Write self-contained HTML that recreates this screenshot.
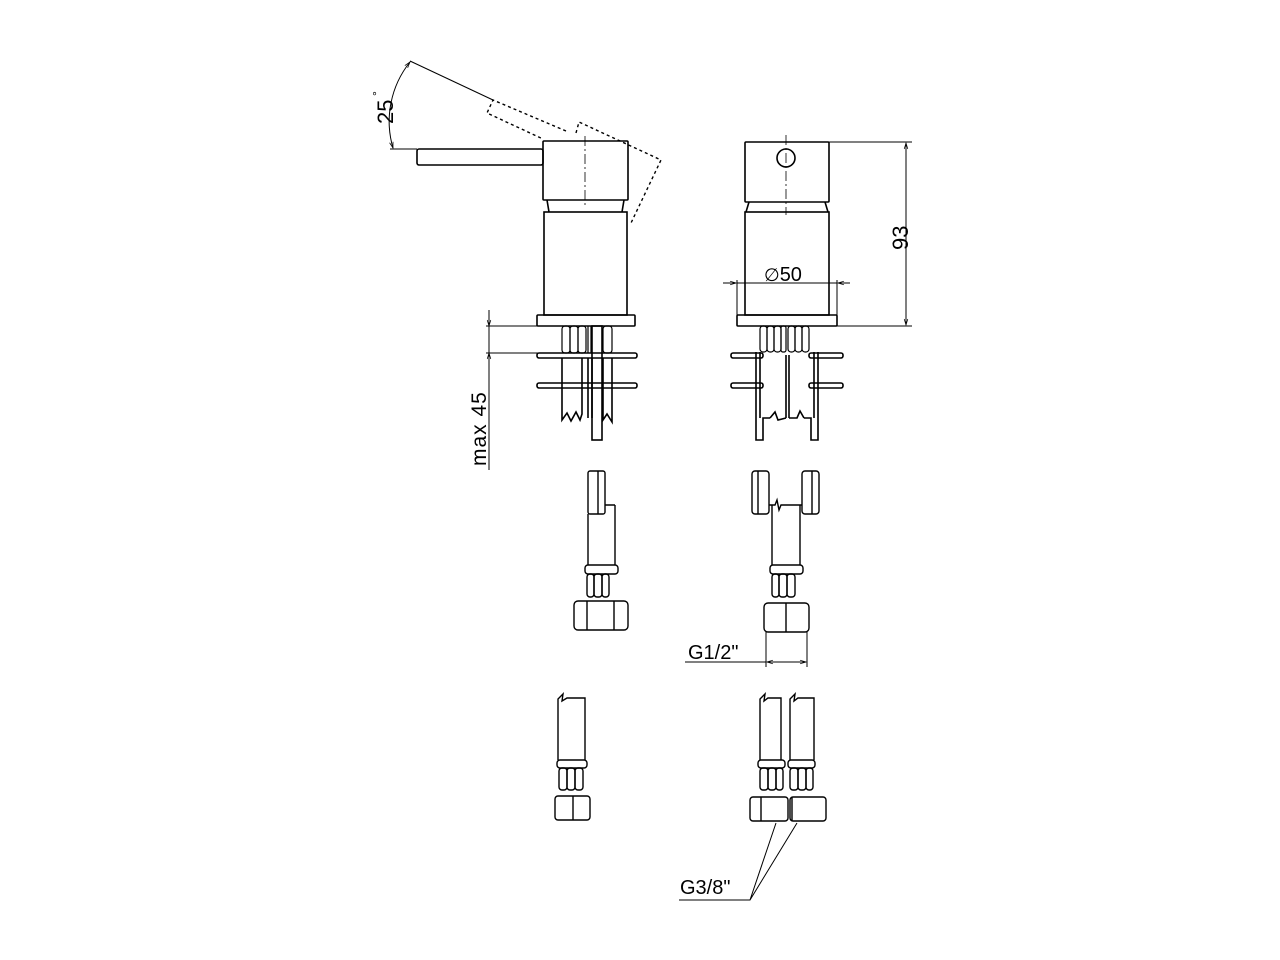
<!DOCTYPE html>
<html><head><meta charset="utf-8"><style>
html,body{margin:0;padding:0;background:#fff;}
svg{display:block;}
text{font-family:"Liberation Sans",sans-serif;fill:#000;}
</style></head><body>
<svg width="1280" height="960" viewBox="0 0 1280 960" xmlns="http://www.w3.org/2000/svg">
<defs>
<marker id="ar" viewBox="0 0 10 10" refX="10" refY="5" markerWidth="8" markerHeight="6" orient="auto-start-reverse"><path d="M0,2 L10,5 L0,8" fill="none" stroke="#000" stroke-width="1.2"/></marker>
</defs>
<g fill="none" stroke="#000" stroke-width="1.6">
<!-- LEFT VIEW -->
<rect x="417" y="149" width="126" height="16" rx="2"/>
<rect x="543" y="141" width="85" height="59" rx="1"/>
<path d="M547,200 L549,212 M624,200 L622,212"/>
<rect x="544" y="212" width="83" height="103"/>
<rect x="537" y="315" width="98" height="11" rx="1"/>
<rect x="537" y="353" width="100" height="5" rx="2"/>
<rect x="537" y="383" width="100" height="5" rx="2"/>
<!-- connectors -->
<g stroke-width="1.2">
<rect x="562" y="326" width="8" height="27" rx="3"/><rect x="570" y="326" width="8" height="27" rx="3"/><rect x="578" y="326" width="8" height="27" rx="3"/>
<rect x="603" y="326" width="9" height="27" rx="3"/>
<path d="M588,326 V353 M591,326 V353"/>
</g>
<path d="M562,358 V420 L567,413 L571,421 L576,412 L580,420 L582,414 V358"/>
<path d="M588,358 V418 M592,358 V418"/>
<rect x="592" y="326" width="10" height="114"/>
<path d="M603,358 V420 L607,414 L612,422 V358"/>
<!-- dotted lever -->
<g stroke-dasharray="3,3" stroke-width="1.4">
<path d="M566,131 L493,100 L487,113 L543,139"/>
<path d="M576,133 L579,122 L661,160 L631,223"/>
</g>
<!-- centerline -->
<path d="M585,136 V206" stroke-width="0.8" stroke-dasharray="10,3,2,3"/>
<!-- 25 deg dimension -->
<path d="M493,100 L410,61" stroke-width="1"/>
<path d="M390,149 H417" stroke-width="1"/>
<path d="M410,62 A95,95 0 0 0 393,148" stroke-width="1" marker-start="url(#ar)" marker-end="url(#ar)"/>
<!-- max 45 -->
<path d="M486,326 H540 M486,353 H540" stroke-width="1"/>
<path d="M489,310 V326" stroke-width="1" marker-end="url(#ar)"/>
<path d="M489,326 V353" stroke-width="1"/>
<path d="M489,470 V353" stroke-width="1" marker-end="url(#ar)"/>

<!-- RIGHT VIEW -->
<rect x="745" y="142" width="84" height="60" rx="1"/>
<circle cx="786" cy="158" r="9"/>
<path d="M786,135 V215" stroke-width="0.8" stroke-dasharray="10,3,2,3"/>
<path d="M749,202 L746,212 M825,202 L828,212"/>
<rect x="745" y="212" width="84" height="103"/>
<rect x="737" y="315" width="100" height="11" rx="1"/>
<g stroke-width="1.2">
<rect x="760" y="326" width="7" height="26" rx="3"/><rect x="767" y="326" width="7" height="26" rx="3"/><rect x="774" y="326" width="7" height="26" rx="3"/><rect x="781" y="326" width="5" height="26" rx="2"/>
<rect x="788" y="326" width="7" height="26" rx="3"/><rect x="795" y="326" width="7" height="26" rx="3"/><rect x="802" y="326" width="7" height="26" rx="3"/>
</g>
<rect x="731" y="353" width="32" height="5" rx="2"/><rect x="809" y="353" width="34" height="5" rx="2"/>
<rect x="731" y="383" width="32" height="5" rx="2"/><rect x="809" y="383" width="34" height="5" rx="2"/>
<path d="M756,352 V440 H763 V418 L770,418 M818,352 V440 H811 V418 L804,418"/>
<path d="M760,352 V418 M814,352 V418"/>
<path d="M770,418 L775,412 L778,420 L786,418 M786,355 V418 M789,355 V418 M789,418 L797,418 L800,411 L804,418"/>
<!-- dim 93 -->
<path d="M829,142 H912 M837,326 H912" stroke-width="1"/>
<path d="M906,234 V143" stroke-width="1" marker-end="url(#ar)"/>
<path d="M906,234 V325" stroke-width="1" marker-end="url(#ar)"/>
<!-- dim phi 50 -->
<path d="M737,280 V320 M837,280 V320" stroke-width="1"/>
<path d="M723,283 H736" stroke-width="1" marker-end="url(#ar)"/>
<path d="M850,283 H838" stroke-width="1" marker-end="url(#ar)"/>
<path d="M737,283 H837" stroke-width="1"/>

<!-- MIDDLE LEFT FITTING -->
<g stroke-width="1.4">
<rect x="588" y="471" width="17" height="43" rx="2"/><path d="M598,471 V514"/>
<path d="M588,514 V565 M615,505 V565 M605,505 H615"/>
<rect x="585" y="565" width="33" height="9" rx="3"/>
<rect x="587" y="574" width="7" height="23" rx="3"/><rect x="594" y="574" width="8" height="23" rx="3"/><rect x="602" y="574" width="7" height="23" rx="3"/>
<rect x="574" y="601" width="54" height="29" rx="4"/><path d="M587,601 V630 M614,601 V630"/>
</g>
<!-- MIDDLE RIGHT FITTING -->
<g stroke-width="1.4">
<rect x="752" y="471" width="17" height="43" rx="3"/><path d="M758,471 V514"/>
<rect x="802" y="471" width="17" height="43" rx="3"/><path d="M812,471 V514"/>
<path d="M769,505 L775,505 L777,500 L779,510 L781,505 H802"/>
<path d="M772,505 V565 M800,505 V565"/>
<rect x="770" y="565" width="33" height="9" rx="3"/>
<rect x="772" y="574" width="7" height="23" rx="3"/><rect x="779" y="574" width="8" height="23" rx="3"/><rect x="787" y="574" width="8" height="23" rx="3"/>
<rect x="764" y="603" width="45" height="29" rx="4"/><path d="M786,603 V632"/>
</g>
<!-- G1/2 dim -->
<path d="M766,632 V667 M807,632 V667" stroke-width="1"/>
<path d="M685,662 H766" stroke-width="1"/>
<path d="M787,662 H767" stroke-width="1" marker-end="url(#ar)"/>
<path d="M787,662 H806" stroke-width="1" marker-end="url(#ar)"/>

<!-- BOTTOM LEFT -->
<g stroke-width="1.4">
<path d="M558,760 V699 L563,694 L562,701 L567,698 H585 V760"/>
<rect x="557" y="760" width="30" height="8" rx="3"/>
<rect x="559" y="768" width="8" height="22" rx="3"/><rect x="567" y="768" width="8" height="22" rx="3"/><rect x="575" y="768" width="8" height="22" rx="3"/>
<rect x="555" y="796" width="35" height="24" rx="3"/><path d="M573,796 V820"/>
</g>
<!-- BOTTOM RIGHT -->
<g stroke-width="1.4">
<path d="M760,760 V699 L765,694 L764,701 L768,698 H781 V760"/>
<path d="M790,760 V699 L795,694 L794,701 L798,698 H814 V760"/>
<rect x="758" y="760" width="27" height="8" rx="3"/><rect x="788" y="760" width="27" height="8" rx="3"/>
<rect x="760" y="768" width="8" height="22" rx="3"/><rect x="768" y="768" width="8" height="22" rx="3"/><rect x="776" y="768" width="7" height="22" rx="3"/>
<rect x="790" y="768" width="8" height="22" rx="3"/><rect x="798" y="768" width="8" height="22" rx="3"/><rect x="806" y="768" width="7" height="22" rx="3"/>
<rect x="750" y="797" width="38" height="24" rx="3"/><path d="M761,797 V821"/>
<rect x="790" y="797" width="36" height="24" rx="3"/><path d="M792,797 V821"/>
</g>
<path d="M679,900 H750 L776,823 M750,900 L797,823" stroke-width="1"/>
</g>

<!-- TEXT -->
<text x="0" y="0" font-size="22" transform="translate(393,124) rotate(-90)">25</text>
<text x="0" y="0" font-size="12" transform="translate(381,96) rotate(-90)">°</text>
<text x="0" y="0" font-size="21" transform="translate(486,466) rotate(-90)" letter-spacing="1">max  45</text>
<text x="0" y="0" font-size="22" transform="translate(908,250) rotate(-90)">93</text>
<text x="764" y="281" font-size="20"><tspan font-size="18">∅</tspan>50</text>
<text x="688" y="659" font-size="20">G1/2"</text>
<text x="680" y="894" font-size="20">G3/8"</text>
</svg>
</body></html>
